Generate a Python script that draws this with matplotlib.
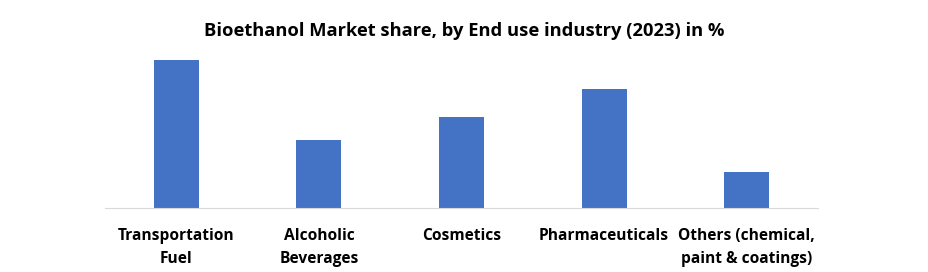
import matplotlib.pyplot as plt

# Données
categories = ["Transportation\nFuel", "Alcoholic\nBeverages", "Cosmetics",
              "Pharmaceuticals", "Others (chemical,\npaint & coatings)"]
parts = [40.0, 18.5, 24.8, 32.4, 9.8]

fig = plt.figure(figsize=(9.29, 2.72), dpi=100)
ax = fig.add_axes([0.113, 0.235, 0.7675, 0.62])

x = range(len(categories))
ax.bar(x, parts, width=0.315, color="#4472C4")

ax.set_xlim(-0.5, len(categories) - 0.5)
ax.set_ylim(0, 45.7)
ax.set_yticks([])
ax.set_xticks(list(x))
ax.set_xticklabels(categories, fontsize=11.2, fontweight="bold", family="Open Sans",
                   linespacing=1.6)
ax.tick_params(axis="x", length=0, pad=14)
for s in ["top", "right", "left"]:
    ax.spines[s].set_visible(False)
ax.spines["bottom"].set_color("#D9D9D9")

fig.text(0.5, 0.885, "Bioethanol Market share, by End use industry (2023) in %",
         ha="center", va="center", fontsize=13.2, fontweight="bold", family="Open Sans")

fig.savefig("out.png", dpi=100)
